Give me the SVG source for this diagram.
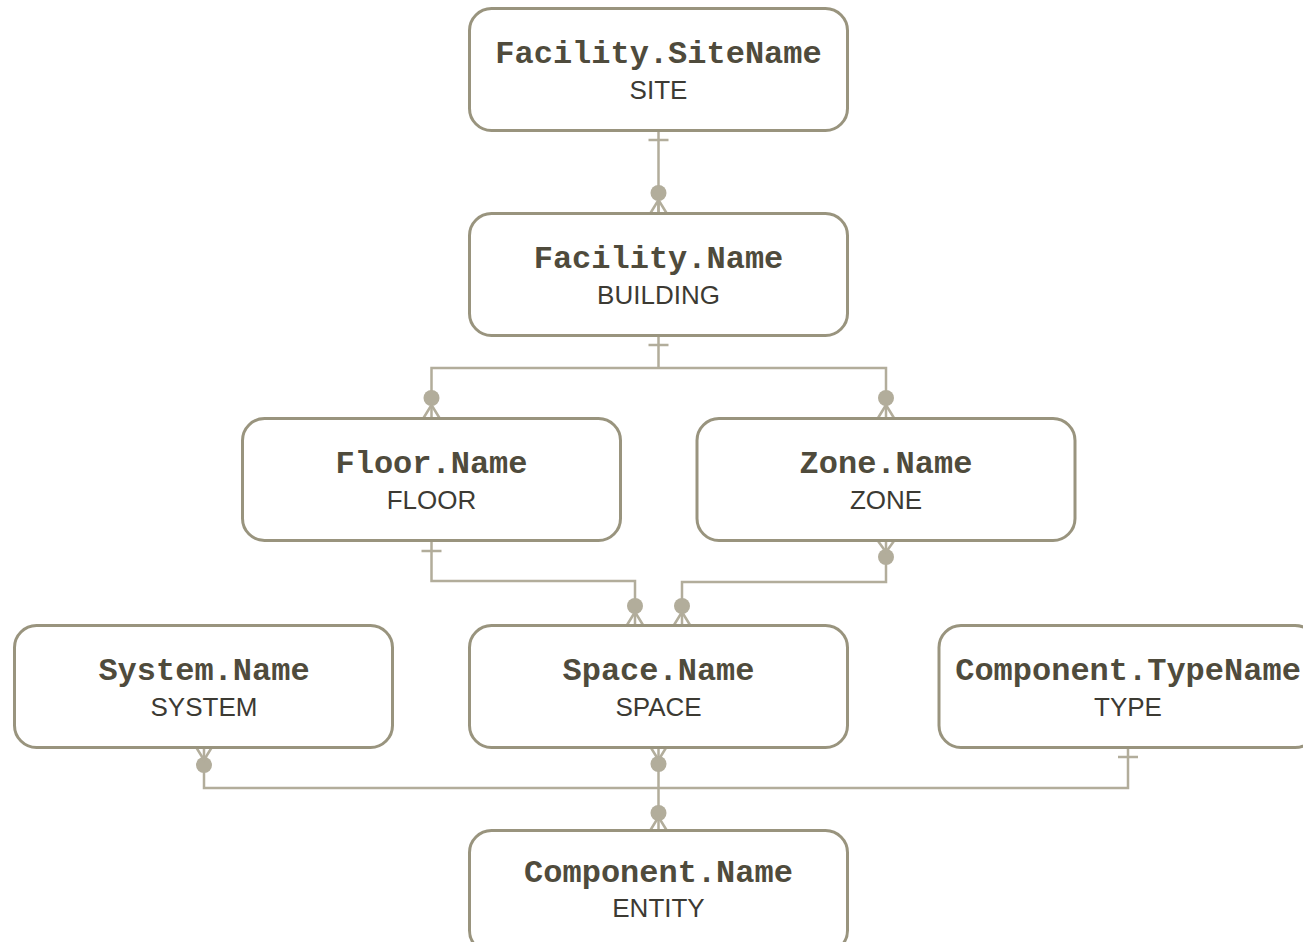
<svg xmlns="http://www.w3.org/2000/svg" width="1303" height="942" viewBox="0 0 1303 942">
<style>
.box{fill:#fff;stroke:#99947e;stroke-width:3}
.t{font-family:"Liberation Mono","Courier New",monospace;font-weight:bold;font-size:32px;fill:#4f4b3c;text-anchor:middle}
.s{font-family:"Liberation Sans",Arial,sans-serif;font-size:26px;fill:#3c3a33;text-anchor:middle}
.c{fill:none;stroke:#b2ad9b;stroke-width:2.5}
.d{fill:#b2ad9b}
</style>
<rect width="1303" height="942" fill="#fff"/>
<g id="connectors">
<path class="c" d="M658.5 130V213"/>
<path class="c" d="M648.5 140H668.5"/>
<circle class="d" cx="658.5" cy="193" r="8"/>
<path class="c" d="M650.5 213L658.5 200L666.5 213M658.5 200V213"/>

<path class="c" d="M658.5 335V368H431.5V418M658.5 368H886V418"/>
<path class="c" d="M648.5 345H668.5"/>
<circle class="d" cx="431.5" cy="398" r="8"/>
<path class="c" d="M423.5 418L431.5 405L439.5 418"/>
<circle class="d" cx="886" cy="398" r="8"/>
<path class="c" d="M878 418L886 405L894 418"/>

<path class="c" d="M431.5 541V581H635V625"/>
<path class="c" d="M421.5 551H441.5"/>
<circle class="d" cx="635" cy="606" r="8"/>
<path class="c" d="M627 625L635 612L643 625"/>
<path class="c" d="M886 541V582H682V625"/>
<circle class="d" cx="886" cy="557" r="8"/>
<path class="c" d="M878 541L886 552L894 541"/>
<circle class="d" cx="682" cy="606" r="8"/>
<path class="c" d="M674 625L682 612L690 625"/>

<path class="c" d="M204 747V788H1128V747M658.5 747V830"/>
<circle class="d" cx="204" cy="765" r="8"/>
<path class="c" d="M196 747L204 760L212 747"/>
<circle class="d" cx="658.5" cy="764" r="8"/>
<path class="c" d="M650.5 747L658.5 760L666.5 747"/>
<path class="c" d="M1118 757H1138"/>
<circle class="d" cx="658.5" cy="813" r="8"/>
<path class="c" d="M650.5 830L658.5 817L666.5 830"/>
</g>
<g id="site"><rect class="box" x="469.5" y="8.5" width="378" height="122" rx="22"/><text class="t" x="658.5" y="63">Facility.SiteName</text><text class="s" x="658.5" y="99">SITE</text></g>
<g id="building"><rect class="box" x="469.5" y="213.5" width="378" height="122" rx="22"/><text class="t" x="658.5" y="268">Facility.Name</text><text class="s" x="658.5" y="304">BUILDING</text></g>
<g id="floor"><rect class="box" x="242.5" y="418.5" width="378" height="122" rx="22"/><text class="t" x="431.5" y="473">Floor.Name</text><text class="s" x="431.5" y="509">FLOOR</text></g>
<g id="zone"><rect class="box" x="697" y="418.5" width="378" height="122" rx="22"/><text class="t" x="886" y="473">Zone.Name</text><text class="s" x="886" y="509">ZONE</text></g>
<g id="system"><rect class="box" x="14.5" y="625.5" width="378" height="122" rx="22"/><text class="t" x="204" y="680">System.Name</text><text class="s" x="204" y="716">SYSTEM</text></g>
<g id="space"><rect class="box" x="469.5" y="625.5" width="378" height="122" rx="22"/><text class="t" x="658.5" y="680">Space.Name</text><text class="s" x="658.5" y="716">SPACE</text></g>
<g id="type"><rect class="box" x="939" y="625.5" width="378" height="122" rx="22"/><text class="t" x="1128" y="680">Component.TypeName</text><text class="s" x="1128" y="716">TYPE</text></g>
<g id="component"><rect class="box" x="469.5" y="830.5" width="378" height="122" rx="22"/><text class="t" x="658.5" y="882">Component.Name</text><text class="s" x="658.5" y="917">ENTITY</text></g>
</svg>
